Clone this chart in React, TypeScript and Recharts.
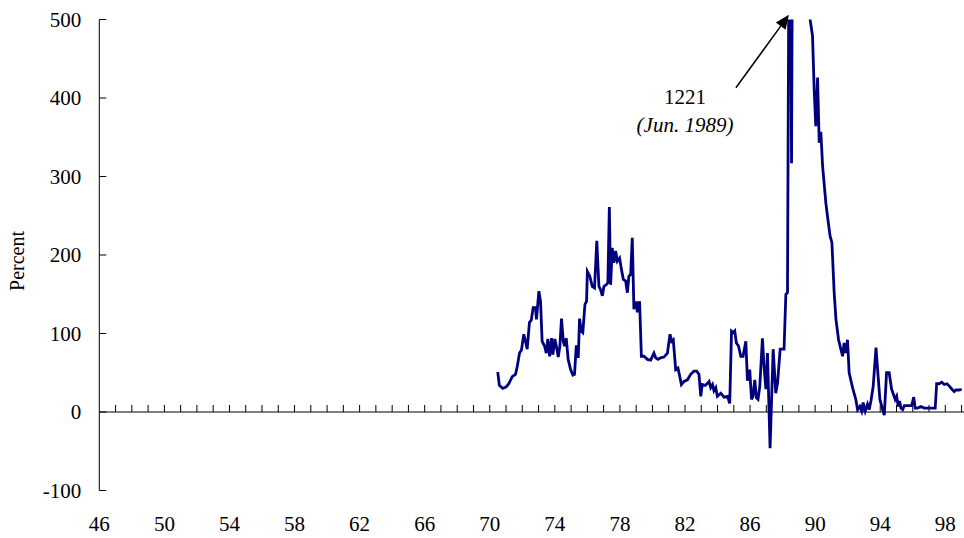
import React from 'react';
import {
  LineChart,
  Line,
  XAxis,
  YAxis,
  ReferenceLine,
  ReferenceDot
} from 'recharts';

// monthly observations, decimal years (70.5 = mid 1970)
const years = [
  70.49, 70.59, 70.8, 71.01, 71.17, 71.38, 71.58, 71.69, 71.83, 71.95,
  72.09, 72.2, 72.3, 72.44, 72.55, 72.67, 72.81, 72.87, 73.02, 73.12,
  73.22, 73.37, 73.47, 73.57, 73.68, 73.8, 73.88, 74.0, 74.09, 74.21,
  74.31, 74.41, 74.52, 74.6, 74.7, 74.82, 74.97, 75.11, 75.21, 75.32,
  75.44, 75.52, 75.62, 75.72, 75.85, 75.95, 76.0, 76.15, 76.3, 76.44,
  76.58, 76.71, 76.81, 76.92, 77.02, 77.16, 77.26, 77.35, 77.43, 77.53,
  77.63, 77.74, 77.84, 77.98, 78.09, 78.21, 78.35, 78.46, 78.55, 78.66,
  78.76, 78.86, 79.01, 79.07, 79.21, 79.32, 79.48, 79.69, 79.89, 80.09,
  80.2, 80.34, 80.5, 80.71, 80.92, 81.08, 81.18, 81.28, 81.43, 81.57,
  81.63, 81.78, 81.94, 82.15, 82.35, 82.55, 82.72, 82.86, 82.97, 83.06,
  83.27, 83.48, 83.58, 83.69, 83.78, 83.89, 83.99, 84.2, 84.4, 84.61,
  84.75, 84.86, 84.98, 85.06, 85.16, 85.29, 85.43, 85.57, 85.74, 85.84,
  85.98, 86.09, 86.18, 86.29, 86.39, 86.49, 86.6, 86.76, 86.86, 86.97,
  87.07, 87.23, 87.42, 87.58, 87.69, 87.85, 88.09, 88.2, 88.3, 88.4,
  88.47, 88.55, 88.63, 88.72, 88.8, 88.88, 88.97, 89.05, 89.13, 89.22,
  89.3, 89.42, 89.5, 89.59, 89.69, 89.84, 89.94, 90.04, 90.15, 90.25,
  90.35, 90.46, 90.66, 90.76, 90.92, 91.03, 91.17, 91.28, 91.44, 91.58,
  91.69, 91.78, 91.89, 91.99, 92.09, 92.3, 92.5, 92.61, 92.75, 92.86,
  92.95, 93.08, 93.22, 93.32, 93.43, 93.57, 93.74, 93.84, 93.98, 94.15,
  94.25, 94.39, 94.55, 94.7, 94.82, 94.92, 95.01, 95.11, 95.19, 95.27,
  95.38, 95.48, 95.69, 95.93, 96.06, 96.15, 96.3, 96.5, 96.71, 96.92,
  97.22, 97.38, 97.47, 97.63, 97.78, 97.94, 98.1, 98.25, 98.41, 98.55,
  98.66, 98.86, 99.01
];

const rates = [
  51, 34, 30, 32, 36, 45, 48, 58, 75, 79,
  99, 90, 80, 114, 117, 133, 133, 118, 154, 141,
  90, 84, 75, 93, 71, 94, 73, 93, 84, 70,
  84, 119, 90, 84, 94, 67, 54, 47, 48, 85,
  69, 119, 103, 101, 137, 141, 179, 173, 160, 158,
  218, 160, 156, 148, 160, 162, 165, 261, 162, 209,
  190, 205, 192, 196, 182, 169, 167, 152, 173, 175,
  222, 131, 141, 127, 141, 71, 71, 67, 66, 75,
  69, 67, 69, 70, 75, 99, 90, 92, 54, 56,
  50, 35, 39, 41, 48, 52, 52, 48, 20, 35,
  34, 39, 31, 35, 27, 31, 20, 24, 19, 20,
  11, 103, 101, 103, 88, 84, 71, 71, 90, 40,
  54, 16, 20, 41, 18, 16, 33, 94, 58, 29,
  75, -46, 80, 24, 37, 80, 80, 150, 152, 640,
  720, 317, 760, 820, 870, 930, 980, 1030, 1080, 1120,
  1170, 1221, 1000, 760, 500, 479, 411, 364, 426, 343,
  357, 313, 266, 249, 224, 216, 152, 118, 92, 80,
  71, 88, 75, 92, 50, 31, 16, 3, 7, 1,
  12, 1, 10, 3, 14, 33, 82, 54, 16, 3,
  -4, 50, 50, 29, 22, 16, 20, 7, 14, 5,
  3, 8, 8, 8, 19, 5, 5, 7, 5, 5,
  5, 5, 36, 36, 38, 35, 36, 33, 29, 26,
  28, 28, 29
];

const xTicks = [46, 50, 54, 58, 62, 66, 70, 74, 78, 82, 86, 90, 94, 98];
const yTicks = [-100, 0, 100, 200, 300, 400, 500];
const yearMarks = [
  47, 48, 49, 50, 51, 52, 53, 54, 55, 56, 57, 58, 59, 60, 61, 62, 63,
  64, 65, 66, 67, 68, 69, 70, 71, 72, 73, 74, 75, 76, 77, 78, 79, 80,
  81, 82, 83, 84, 85, 86, 87, 88, 89, 90, 91, 92, 93, 94, 95, 96, 97,
  98, 99
];

const peakNote = { value: '1221', date: '(Jun. 1989)' };

const data = years.map((year, i) => ({ year, rate: rates[i] }));

const FONT = "'Liberation Serif', 'Times New Roman', serif";

function YTick({ x, y, payload }: any) {
  return (
    <g>
      <line x1={x} y1={y} x2={x + 7} y2={y} stroke="#000" strokeWidth={1} />
      <text
        x={x - 18}
        y={y}
        dy={7}
        textAnchor="end"
        fontFamily={FONT}
        fontSize={21}
        fill="#000"
      >
        {payload.value}
      </text>
    </g>
  );
}

function XTick({ x, y, payload }: any) {
  return (
    <text
      x={x}
      y={y + 40}
      textAnchor="middle"
      fontFamily={FONT}
      fontSize={21}
      fill="#000"
    >
      {payload.value}
    </text>
  );
}

function Arrow({ x1, y1, x2, y2 }: any) {
  const ang = Math.atan2(y2 - y1, x2 - x1);
  const len = 14;
  const half = 6;
  const bx = x2 - len * Math.cos(ang);
  const by = y2 - len * Math.sin(ang);
  const px = -Math.sin(ang) * half;
  const py = Math.cos(ang) * half;
  return (
    <g>
      <line x1={x1} y1={y1} x2={bx} y2={by} stroke="#000" strokeWidth={1.5} />
      <polygon
        points={`${x2},${y2} ${bx + px},${by + py} ${bx - px},${by - py}`}
        fill="#000"
      />
    </g>
  );
}

function NoteText({ cx, cy }: any) {
  return (
    <g fontFamily={FONT} fontSize={21} fill="#000">
      <text x={cx} y={cy} textAnchor="middle">
        {peakNote.value}
      </text>
      <text x={cx} y={cy + 28} textAnchor="middle" fontStyle="italic">
        {peakNote.date}
      </text>
    </g>
  );
}

function PercentLabel({ viewBox }: any) {
  const cx = 17;
  const cy = viewBox.y + viewBox.height / 2 + 6;
  return (
    <text
      x={cx}
      y={cy}
      transform={`rotate(-90 ${cx} ${cy})`}
      textAnchor="middle"
      dominantBaseline="central"
      fontFamily={FONT}
      fontSize={20}
      fill="#000"
    >
      Percent
    </text>
  );
}

export default function App() {
  return (
    <div style={{ position: 'absolute', left: 0, top: 0, width: 964, height: 538, background: '#fff' }}>
      <LineChart
        width={964}
        height={538}
        data={data}
        margin={{ top: 19.5, right: 0, bottom: 7.5, left: 0 }}
      >
        <XAxis
          dataKey="year"
          type="number"
          domain={[46, 99.15]}
          allowDataOverflow
          ticks={xTicks}
          interval={0}
          axisLine={false}
          tickLine={false}
          tickSize={0}
          tickMargin={0}
          height={40}
          tick={<XTick />}
        />
        <YAxis
          type="number"
          domain={[-100, 500]}
          allowDataOverflow
          ticks={yTicks}
          interval={0}
          width={99.3}
          axisLine={{ stroke: '#000', strokeWidth: 1 }}
          tickLine={false}
          tickSize={0}
          tickMargin={0}
          tick={<YTick />}
          label={<PercentLabel />}
        />
        <ReferenceLine y={0} stroke="#000" strokeWidth={1} />
        {yearMarks.map((yr) => (
          <ReferenceLine
            key={yr}
            segment={[{ x: yr, y: 0 }, { x: yr, y: 9 }]}
            stroke="#000"
            strokeWidth={1}
          />
        ))}
        <Line
          type="linear"
          dataKey="rate"
          stroke="#00007f"
          strokeWidth={2.8}
          dot={false}
          isAnimationActive={false}
        />
        <ReferenceLine
          segment={[{ x: 85.13, y: 413 }, { x: 88.39, y: 506 }]}
          ifOverflow="visible"
          shape={<Arrow />}
        />
        <ReferenceDot
          x={82.0}
          y={392}
          r={0}
          ifOverflow="visible"
          shape={<NoteText />}
        />
      </LineChart>
    </div>
  );
}
